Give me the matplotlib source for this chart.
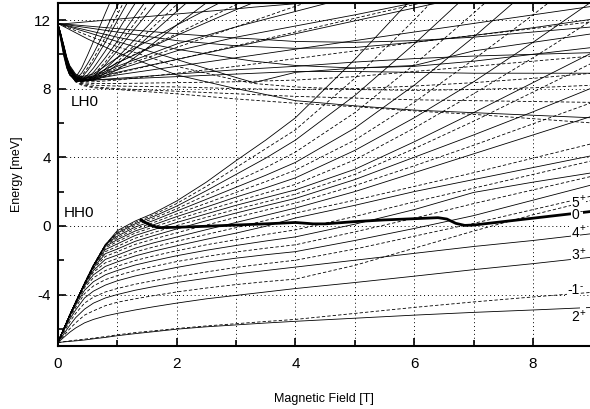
import matplotlib
matplotlib.use('Agg')
import matplotlib.pyplot as plt
from matplotlib.ticker import MultipleLocator

plt.rcParams['font.family'] = ['Liberation Sans', 'DejaVu Sans']
plt.rcParams['axes.unicode_minus'] = False

# heavy hole fan (HH0), all levels share one field grid
hh_B = [0, 0.1, 0.2, 0.3, 0.45, 0.6, 0.8, 1, 1.3, 1.6, 2, 2.5, 3, 3.5, 4, 5, 6, 7, 8, 9]
hh_solid = [
    [-6.8, -6.76, -6.73, -6.7, -6.65, -6.58, -6.5, -6.4, -6.28, -6.17, -6.02, -5.88, -5.77, -5.66, -5.56, -5.38, -5.2, -5.04, -4.9, -4.75],
    [-6.8, -6.5, -6.2, -5.95, -5.65, -5.45, -5.25, -5.1, -4.9, -4.72, -4.5, -4.25, -4.05, -3.85, -3.65, -3.3, -2.93, -2.55, -2.2, -1.82],
    [-6.8, -6.3, -5.8, -5.35, -4.85, -4.5, -4.2, -4.0, -3.75, -3.55, -3.3, -3.05, -2.8, -2.6, -2.4, -2.0, -1.6, -1.2, -0.85, -0.45],
    [-6.8, -6.1, -5.45, -4.9, -4.2, -3.8, -3.45, -3.2, -2.92, -2.7, -2.42, -2.12, -1.88, -1.68, -1.5, -0.85, -0.15, 0.6, 1.5, 2.4],
    [-6.8, -6.02, -5.28, -4.62, -3.75, -3.25, -2.85, -2.6, -2.28, -2.04, -1.74, -1.42, -1.14, -0.88, -0.64, 0.1, 0.95, 1.95, 2.55, 3.1],
    [-6.8, -6.0, -5.22, -4.5, -3.5, -2.85, -2.36, -2.1, -1.75, -1.48, -1.16, -0.78, -0.42, -0.02, 0.46, 1.2, 2.0, 2.7, 3.4, 4.1],
    [-6.8, -6.0, -5.2, -4.46, -3.4, -2.6, -1.95, -1.7, -1.3, -1.0, -0.65, -0.22, 0.2, 0.62, 1.04, 2.0, 3.1, 4.2, 5.3, 6.4],
    [-6.8, -6.0, -5.2, -4.45, -3.36, -2.43, -1.62, -1.35, -0.9, -0.58, -0.18, 0.3, 0.75, 1.18, 1.6, 2.7, 4.0, 5.3, 6.65, 8.05],
    [-6.8, -6.0, -5.2, -4.45, -3.35, -2.34, -1.38, -1.05, -0.56, -0.23, 0.2, 0.7, 1.2, 1.65, 2.1, 3.3, 4.9, 6.6, 8.35, 10.1],
    [-6.8, -6.0, -5.2, -4.45, -3.35, -2.3, -1.2, -0.8, -0.3, 0.05, 0.54, 1.1, 1.68, 2.22, 2.8, 4.4, 6.3, 8.4, 10.7, 13.1],
    [-6.8, -6.0, -5.2, -4.45, -3.35, -2.3, -1.1, -0.6, -0.07, 0.3, 0.86, 1.55, 2.25, 2.95, 3.7, 5.7, 8.2, 11.0, 14.0, 17.0],
    [-6.8, -6.0, -5.2, -4.45, -3.35, -2.3, -1.1, -0.42, 0.12, 0.53, 1.15, 2.05, 3.0, 3.95, 5.0, 7.6, 10.6, 13.8, 17.0, 20.0],
    [-6.8, -6.0, -5.2, -4.45, -3.35, -2.3, -1.1, -0.28, 0.28, 0.72, 1.45, 2.55, 3.8, 5.0, 6.3, 9.7, 13.4, 17.0, 20.0, 23.0],
]
hh_dashed = [
    [-6.8, -6.75, -6.7, -6.66, -6.6, -6.54, -6.45, -6.35, -6.22, -6.12, -5.98, -5.83, -5.7, -5.57, -5.45, -5.1, -4.75, -4.43, -4.14, -3.87],
    [-6.8, -6.4, -6.0, -5.65, -5.2, -4.95, -4.65, -4.45, -4.25, -4.07, -3.85, -3.62, -3.42, -3.25, -3.1, -2.3, -1.3, -0.3, 0.65, 1.5],
    [-6.8, -6.2, -5.6, -5.1, -4.5, -4.15, -3.85, -3.65, -3.4, -3.2, -2.95, -2.68, -2.42, -2.2, -2.0, -1.35, -0.6, 0.15, 0.95, 1.75],
    [-6.8, -6.05, -5.35, -4.75, -3.95, -3.5, -3.13, -2.9, -2.6, -2.37, -2.08, -1.78, -1.52, -1.3, -1.1, -0.35, 0.45, 1.3, 2.1, 2.9],
    [-6.8, -6.0, -5.24, -4.55, -3.6, -3.02, -2.6, -2.35, -2.02, -1.76, -1.45, -1.1, -0.8, -0.5, -0.23, 0.55, 1.4, 2.2, 3.0, 3.8],
    [-6.8, -6.0, -5.2, -4.47, -3.45, -2.7, -2.15, -1.9, -1.52, -1.24, -0.9, -0.5, -0.1, 0.32, 0.75, 1.5, 2.3, 3.1, 3.95, 4.8],
    [-6.8, -6.0, -5.2, -4.45, -3.38, -2.5, -1.78, -1.5, -1.08, -0.78, -0.4, 0.05, 0.5, 0.92, 1.33, 2.35, 3.5, 4.7, 5.95, 7.2],
    [-6.8, -6.0, -5.2, -4.45, -3.35, -2.38, -1.5, -1.2, -0.72, -0.4, 0.02, 0.5, 0.97, 1.4, 1.85, 3.0, 4.5, 6.1, 7.8, 9.5],
    [-6.8, -6.0, -5.2, -4.45, -3.35, -2.32, -1.28, -0.92, -0.42, -0.08, 0.38, 0.9, 1.42, 1.92, 2.42, 3.85, 5.7, 7.7, 9.8, 12.0],
    [-6.8, -6.0, -5.2, -4.45, -3.35, -2.3, -1.14, -0.7, -0.18, 0.18, 0.7, 1.32, 1.95, 2.58, 3.25, 5.0, 7.2, 9.7, 12.3, 15.0],
    [-6.8, -6.0, -5.2, -4.45, -3.35, -2.3, -1.1, -0.5, 0.03, 0.42, 1.0, 1.8, 2.6, 3.4, 4.3, 6.6, 9.4, 12.4, 15.5, 18.6],
    [-6.8, -6.0, -5.2, -4.45, -3.35, -2.3, -1.1, -0.35, 0.2, 0.63, 1.3, 2.3, 3.4, 4.5, 5.6, 8.6, 12.0, 15.6, 19.0, 22.0],
]

# the bold 0- level
bold_B = [1.4, 1.55, 1.7, 2, 2.5, 3, 3.5, 4, 4.3, 4.5, 5, 5.5, 6, 6.4, 6.55, 6.7, 6.85, 7, 7.5, 8, 8.5, 9]
bold_E = [0.35, 0.05, -0.1, -0.08, -0.02, 0.05, 0.12, 0.2, 0.12, 0.12, 0.25, 0.35, 0.42, 0.48, 0.4, 0.15,
          0.03, 0.05, 0.25, 0.45, 0.65, 0.85]

# light hole fan (LH0): steep "parabola" bundle
lhp_B = [0, 0.05, 0.1, 0.15, 0.2, 0.3, 0.4, 0.5, 0.6, 0.8, 1.0, 1.25, 1.5, 2.0, 2.5]
lhp_solid = [
    [11.8, 10.8, 9.9, 9.2, 8.8, 8.65, 9.2, 9.95, 10.75, 12.4, 14.0],
    [11.8, 10.9, 10.0, 9.25, 8.8, 8.55, 8.9, 9.45, 10.05, 11.4, 12.8, 14.5],
    [11.8, 11.0, 10.1, 9.35, 8.8, 8.45, 8.65, 9.05, 9.55, 10.7, 11.95, 13.5],
    [11.8, 11.0, 10.15, 9.4, 8.85, 8.4, 8.5, 8.8, 9.2, 10.2, 11.3, 12.7, 14.0],
    [11.8, 11.05, 10.2, 9.45, 8.9, 8.4, 8.45, 8.65, 8.95, 9.8, 10.75, 12.0, 13.2],
    [11.8, 11.1, 10.3, 9.55, 9.0, 8.5, 8.4, 8.5, 8.7, 9.4, 10.2, 11.3, 12.35, 14.5],
    [11.8, 11.1, 10.35, 9.6, 9.05, 8.55, 8.45, 8.45, 8.6, 9.15, 9.8, 10.7, 11.6, 13.4],
    [11.8, 11.15, 10.45, 9.7, 9.15, 8.65, 8.5, 8.45, 8.5, 8.9, 9.4, 10.15, 10.95, 12.5, 14.0],
    [11.8, 11.2, 10.5, 9.75, 9.2, 8.7, 8.55, 8.5, 8.5, 8.75, 9.1, 9.7, 10.35, 11.7, 13.0],
]
lhp_dashed = [
    [11.8, 10.95, 10.05, 9.3, 8.8, 8.5, 8.75, 9.2, 9.75, 11.0, 12.3, 14.0],
    [11.8, 11.05, 10.25, 9.5, 8.95, 8.45, 8.42, 8.55, 8.8, 9.55, 10.45, 11.6, 12.8],
    [11.8, 11.15, 10.4, 9.65, 9.1, 8.6, 8.48, 8.45, 8.55, 9.0, 9.55, 10.4, 11.25, 12.9],
]

# light hole fan: levels leaving the minimum with moderate slopes
lhf_B = [0, 0.05, 0.1, 0.15, 0.2, 0.3, 0.4, 0.6, 1.0, 2.0, 3.0, 4.0, 5.0, 6.0, 7.0, 8.0, 9.0]
lhf_solid = [
    [11.8, 11.0, 10.2, 9.5, 9.0, 8.55, 8.45, 8.5, 8.55, 8.7, 8.85, 9.0, 9.0, 8.95, 8.9, 8.9, 8.9],
    [11.8, 11.05, 10.25, 9.55, 9.05, 8.6, 8.5, 8.5, 8.6, 8.85, 9.1, 9.3, 9.55, 9.75, 9.9, 10.0, 10.1],
    [11.8, 11.05, 10.3, 9.6, 9.1, 8.6, 8.5, 8.55, 8.8, 9.3, 9.8, 10.3, 10.8, 11.3, 11.8, 12.3, 12.8],
    [11.8, 11.1, 10.35, 9.65, 9.15, 8.65, 8.55, 8.6, 8.95, 9.7, 10.45, 11.2, 11.95, 12.7, 13.45, 14.2, 15.0],
    [11.8, 11.1, 10.4, 9.7, 9.2, 8.7, 8.6, 8.65, 9.1, 10.2, 11.0, 11.65, 12.3, 13.0, 13.7, 14.4, 15.0],
    [11.8, 11.15, 10.45, 9.75, 9.25, 8.75, 8.6, 8.7, 9.3, 10.6, 11.6, 12.5, 13.4, 14.3, 15.0, 16.0, 17.0],
    [11.8, 11.15, 10.5, 9.8, 9.3, 8.8, 8.65, 8.75, 9.5, 11.1, 12.6, 14.0, 15.4, 17.0, 18.0, 19.0, 20.0],
    [11.8, 11.2, 10.55, 9.85, 9.35, 8.85, 8.7, 8.85, 9.8, 11.7, 13.5, 15.3, 17.0, 19.0, 21.0, 23.0, 25.0],
]
lhf_dashed = [
    [11.8, 11.05, 10.3, 9.6, 9.1, 8.5, 8.3, 8.2, 8.15, 8.1, 8.0, 7.95, 8.0, 8.15, 8.35, 8.6, 8.9],
    [11.8, 11.05, 10.3, 9.6, 9.1, 8.45, 8.25, 8.1, 8.0, 7.85, 7.7, 7.55, 7.45, 7.35, 7.3, 7.25, 7.2],
    [11.8, 11.05, 10.3, 9.6, 9.1, 8.4, 8.2, 8.05, 7.95, 7.7, 7.4, 7.15, 6.95, 6.7, 6.5, 6.25, 6.0],
    [11.8, 11.0, 10.25, 9.55, 9.05, 8.5, 8.35, 8.3, 8.3, 8.35, 8.4, 8.5, 8.7, 9.0, 9.3, 9.6, 9.9],
    [11.8, 11.1, 10.35, 9.65, 9.15, 8.6, 8.45, 8.5, 8.9, 9.7, 10.5, 11.3, 12.1, 12.9, 13.7, 14.5, 15.3],
    [11.8, 11.1, 10.4, 9.7, 9.2, 8.65, 8.5, 8.6, 9.2, 10.4, 11.6, 12.8, 14.0, 15.0, 16.0, 17.0, 18.0],
    [11.8, 11.15, 10.45, 9.75, 9.25, 8.7, 8.55, 8.7, 9.5, 11.2, 12.9, 14.6, 16.0, 17.0, 18.0, 19.0, 20.0],
    [11.8, 11.0, 10.2, 9.5, 9.0, 8.5, 8.4, 8.4, 8.5, 8.9, 9.3, 9.75, 10.2, 10.7, 11.1, 11.5, 11.9],
]

# light hole levels falling almost linearly from the band edge
lhd_B = [0, 0.5, 1, 2, 3, 3.3, 4, 5, 6, 7, 8, 9]
lhd_solid = [
    [11.8, 11.55, 11.3, 10.8, 10.5, 10.45, 10.35, 10.4, 10.7, 11.1, 11.55, 12.05],
    [11.8, 11.28, 10.75, 9.7, 8.65, 8.35, 8.95, 9.2, 9.35, 10.2, 10.7, 11.2],
    [11.8, 10.9, 10.1, 8.8, 8.0, 7.8, 7.3, 7.0, 6.75, 6.6, 6.45, 6.3],
    [11.75, 11.9, 12.05, 12.35, 12.65, 12.75, 12.95, 13.2, 13.5, 13.8, 14.1, 14.4],
    [11.8, 11.65, 11.5, 11.2, 10.95, 10.9, 10.75, 10.7, 10.8, 11.0, 11.3, 11.6],
    [11.8, 11.4, 11.0, 10.3, 9.75, 9.6, 9.35, 9.2, 9.3, 9.6, 10.0, 10.4],
]
lhd_dashed = [
    [11.8, 11.1, 10.45, 9.3, 8.5, 8.3, 8.1, 7.95, 7.9, 7.95, 8.05, 8.2],
]

level_labels = ['5', '0', '4', '3', '-1', '2']
level_signs = ['+', '-', '+', '+', '-', '+']
label_E = [1.35, 0.62, -0.4, -1.7, -3.75, -5.3]

fig = plt.figure(figsize=(5.9, 4.09), dpi=100)
ax = fig.add_axes([0.098, 0.154, 0.902, 0.839])

lw = 0.6
dash = (0, (4, 2.5))
for E in hh_solid:
    ax.plot(hh_B, E, color='black', lw=lw)
for E in hh_dashed:
    ax.plot(hh_B, E, color='black', lw=lw, linestyle=dash)
for E in lhp_solid:
    ax.plot(lhp_B[:len(E)], E, color='black', lw=lw)
for E in lhp_dashed:
    ax.plot(lhp_B[:len(E)], E, color='black', lw=lw, linestyle=dash)
for E in lhf_solid:
    ax.plot(lhf_B, E, color='black', lw=lw)
for E in lhf_dashed:
    ax.plot(lhf_B, E, color='black', lw=lw, linestyle=dash)
for E in lhd_solid:
    ax.plot(lhd_B, E, color='black', lw=lw)
for E in lhd_dashed:
    ax.plot(lhd_B, E, color='black', lw=lw, linestyle=dash)
ax.plot(bold_B, bold_E, color='black', lw=2.0)

ax.set_xlim(0, 8.96)
ax.set_ylim(-7, 13)

ax.xaxis.set_major_locator(MultipleLocator(2))
ax.xaxis.set_minor_locator(MultipleLocator(1))
ax.yaxis.set_major_locator(MultipleLocator(4))
ax.yaxis.set_minor_locator(MultipleLocator(2))
ax.tick_params(which='both', direction='in', top=True, labelsize=11, width=1.2)
ax.tick_params(which='major', length=6)
ax.tick_params(which='minor', length=4)
ax.tick_params(axis='x', pad=8)
ax.tick_params(axis='y', pad=5)
ax.grid(which='both', axis='x', linestyle=(0, (1, 3)), color='black', lw=0.7)
ax.grid(which='major', axis='y', linestyle=(0, (1, 3)), color='black', lw=0.7)

for side in ['left', 'bottom', 'top']:
    ax.spines[side].set_linewidth(1.5)
ax.spines['right'].set_visible(False)

ax.set_xlabel('Magnetic Field [T]', fontsize=9, labelpad=16)
ax.set_ylabel('Energy [meV]', fontsize=9, labelpad=8)

ax.text(0.1, 0.75, 'HH0', fontsize=11, va='center', ha='left',
        bbox=dict(facecolor='white', edgecolor='none', pad=0.5))
ax.text(0.22, 7.2, 'LH0', fontsize=11, va='center', ha='left',
        bbox=dict(facecolor='white', edgecolor='none', pad=0.5))

for num, sign, E in zip(level_labels, level_signs, label_E):
    ax.text(8.78, E, num, fontsize=10, va='center', ha='right',
            bbox=dict(facecolor='white', edgecolor='none', pad=0.3))
    ax.text(8.79, E + 0.25, sign, fontsize=7, va='center', ha='left',
            bbox=dict(facecolor='white', edgecolor='none', pad=0.1))

fig.savefig('out.png', dpi=100)
